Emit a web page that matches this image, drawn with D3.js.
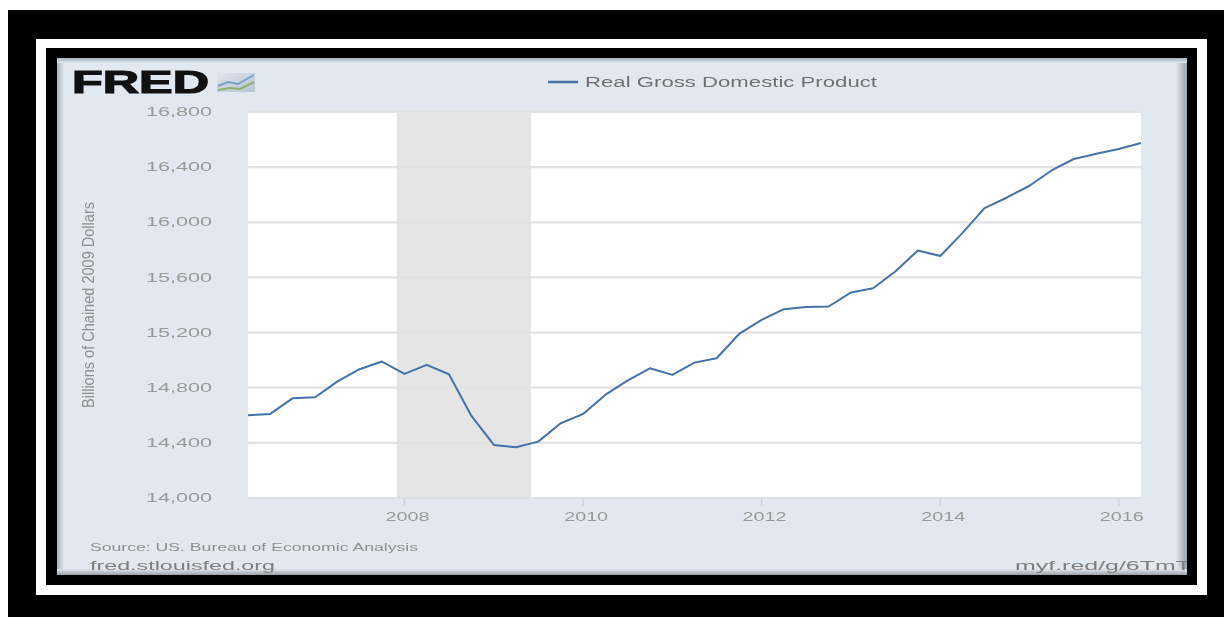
<!DOCTYPE html>
<html><head><meta charset="utf-8">
<script src="https://cdn.jsdelivr.net/npm/d3@7"></script>
<style>body{margin:0;background:#fff;} svg{display:block;}</style>
</head><body>
<svg id="c" width="1224" height="617"></svg>
<script>
// ---- data ----
const quarters = [
  "2006-04-01","2006-07-01","2006-10-01",
  "2007-01-01","2007-04-01","2007-07-01","2007-10-01",
  "2008-01-01","2008-04-01","2008-07-01","2008-10-01",
  "2009-01-01","2009-04-01","2009-07-01","2009-10-01",
  "2010-01-01","2010-04-01","2010-07-01","2010-10-01",
  "2011-01-01","2011-04-01","2011-07-01","2011-10-01",
  "2012-01-01","2012-04-01","2012-07-01","2012-10-01",
  "2013-01-01","2013-04-01","2013-07-01","2013-10-01",
  "2014-01-01","2014-04-01","2014-07-01","2014-10-01",
  "2015-01-01","2015-04-01","2015-07-01","2015-10-01",
  "2016-01-01","2016-04-01"];
const gdp = [
  14600,14610,14724,
  14731,14844,14934,14990,
  14900,14966,14898,14595,
  14385,14368,14409,14542,
  14610,14748,14852,14941,
  14893,14982,15014,15190,
  15292,15370,15385,15389,
  15491,15522,15643,15796,
  15755,15921,16103,16180,
  16265,16376,16459,16497,
  16532,16575];
const yTicks = [14000,14400,14800,15200,15600,16000,16400,16800];
const xTickYears = [2008,2010,2012,2014,2016];
const recession = ["2007-12-01","2009-06-01"];
const seriesName = "Real Gross Domestic Product";
const yTitle = "Billions of Chained 2009 Dollars";
const sourceLines = ["Source: US. Bureau of Economic Analysis","fred.stlouisfed.org"];
const shortUrl = "myf.red/g/6TmT";

// ---- drawing ----
const svg = d3.select("#c");
const parse = d3.timeParse("%Y-%m-%d");
const data = quarters.map((q,i)=>({date:parse(q), v:gdp[i]}));
const FONT = "Liberation Sans, Arial, sans-serif";

const defs = svg.append("defs");
defs.append("filter").attr("id","soft").append("feGaussianBlur").attr("stdDeviation",0.45);

// frames
svg.append("rect").attr("x",8).attr("y",10).attr("width",1216).attr("height",607).attr("fill","#000");
svg.append("rect").attr("x",36).attr("y",39).attr("width",1171).attr("height",556).attr("fill","#fff");
svg.append("rect").attr("x",46).attr("y",48).attr("width",1151).attr("height",537).attr("fill","#000");

// panel
function grad(id,x1,y1,x2,y2,c1,c2){
  const g = defs.append("linearGradient").attr("id",id).attr("x1",x1).attr("y1",y1).attr("x2",x2).attr("y2",y2);
  g.append("stop").attr("offset","0%").attr("stop-color",c1);
  g.append("stop").attr("offset","100%").attr("stop-color",c2);
}
grad("gl","0","0","1","0","#a8b0b8","#e1e8ef");
grad("gr","0","0","1","0","#e1e8ef","#9aa2aa");
grad("gt","0","0","0","1","#a8b0b8","#e1e8ef");
grad("gb","0","0","0","1","#e1e8ef","#9aa2aa");
grad("icon","0","0","1","1","#dfe6ee","#b7c3cf");
svg.append("rect").attr("x",57).attr("y",58).attr("width",1130).attr("height",517).attr("fill","#e1e8ef");
svg.append("rect").attr("x",57).attr("y",58).attr("width",7).attr("height",517).attr("fill","url(#gl)");
svg.append("rect").attr("x",1176).attr("y",58).attr("width",11).attr("height",517).attr("fill","url(#gr)");
svg.append("rect").attr("x",57).attr("y",58).attr("width",1130).attr("height",5).attr("fill","url(#gt)");
svg.append("rect").attr("x",57).attr("y",569).attr("width",1130).attr("height",6).attr("fill","url(#gb)");

// scales
const x = d3.scaleTime().domain([parse("2006-04-01"), parse("2016-04-01")]).range([248,1141]);
const y = d3.scaleLinear().domain([14000,16800]).range([498,112]);

// plot area
svg.append("rect").attr("x",x.range()[0]).attr("y",y.range()[1])
  .attr("width",x.range()[1]-x.range()[0]).attr("height",y.range()[0]-y.range()[1]).attr("fill","#fff");

// recession
svg.append("rect").attr("x",x(parse(recession[0]))).attr("y",y.range()[1])
  .attr("width",x(parse(recession[1]))-x(parse(recession[0])))
  .attr("height",y.range()[0]-y.range()[1]).attr("fill","#e5e5e5");

// gridlines
svg.append("g").selectAll("line").data(yTicks).join("line")
  .attr("x1",x.range()[0]).attr("x2",x.range()[1])
  .attr("y1",d=>y(d)).attr("y2",d=>y(d))
  .attr("stroke",d=>d===14000?"#d8e0e8":"#e2e2e2").attr("stroke-width",2.2);

const txt = svg.append("g").attr("filter","url(#soft)");

// y labels
txt.append("g").selectAll("text").data(yTicks).join("text")
  .attr("x",212).attr("y",d=>y(d)).attr("dy","0.35em")
  .attr("text-anchor","end")
  .attr("font-family",FONT).attr("font-size",12)
  .attr("fill","#999")
  .attr("textLength",66).attr("lengthAdjust","spacingAndGlyphs")
  .text(d3.format(","));

// x ticks and labels
const xt = xTickYears.map(yr=>new Date(yr,0,1));
svg.append("g").selectAll("line").data(xt).join("line")
  .attr("x1",d=>x(d)).attr("x2",d=>x(d)).attr("y1",499).attr("y2",506)
  .attr("stroke","#c9d3dd").attr("stroke-width",1.5);
txt.append("g").selectAll("text").data(xt).join("text")
  .attr("x",d=>x(d)+3).attr("y",517).attr("dy","0.35em")
  .attr("text-anchor","middle")
  .attr("font-family",FONT).attr("font-size",12)
  .attr("fill","#999")
  .attr("textLength",44).attr("lengthAdjust","spacingAndGlyphs")
  .text(d=>d.getFullYear());

// y title
txt.append("text")
  .attr("transform","translate(94,305) scale(1.45,1) rotate(-90)")
  .attr("text-anchor","middle")
  .attr("font-family",FONT).attr("font-size",12)
  .attr("fill","#8e8e8e")
  .attr("textLength",206).attr("lengthAdjust","spacingAndGlyphs")
  .text(yTitle);

// line
svg.append("path").datum(data)
  .attr("d",d3.line().x(d=>x(d.date)).y(d=>y(d.v)))
  .attr("fill","none").attr("stroke","#4572a7").attr("stroke-width",2).attr("stroke-linejoin","round");

// legend
svg.append("line").attr("x1",548).attr("x2",578).attr("y1",82).attr("y2",82)
  .attr("stroke","#4572a7").attr("stroke-width",2.5);
txt.append("text").attr("x",585).attr("y",82).attr("dy","0.35em")
  .attr("font-family",FONT).attr("font-size",14)
  .attr("fill","#707070").attr("textLength",292).attr("lengthAdjust","spacingAndGlyphs")
  .text(seriesName);

// FRED logo
svg.append("text").attr("x",72).attr("y",93)
  .attr("font-family",FONT).attr("font-weight","900").attr("font-size",32)
  .attr("fill","#111").attr("stroke","#111").attr("stroke-width",1.2)
  .attr("textLength",137).attr("lengthAdjust","spacingAndGlyphs")
  .text("FRED");
svg.append("rect").attr("x",217).attr("y",73).attr("width",38).attr("height",19).attr("fill","url(#icon)");
svg.append("polyline").attr("points","218,86 228,82 238,84 254,75").attr("fill","none").attr("stroke","#7f9fc0").attr("stroke-width",2);
svg.append("polyline").attr("points","218,90 230,88 240,89 254,82").attr("fill","none").attr("stroke","#8fb070").attr("stroke-width",2);

// source
txt.append("text").attr("x",90).attr("y",547).attr("dy","0.35em")
  .attr("font-family",FONT).attr("font-size",11)
  .attr("fill","#8f8f8f").attr("textLength",328).attr("lengthAdjust","spacingAndGlyphs")
  .text(sourceLines[0]);
txt.append("text").attr("x",90).attr("y",566).attr("dy","0.35em")
  .attr("font-family",FONT).attr("font-size",12)
  .attr("fill","#7e7e7e").attr("textLength",185).attr("lengthAdjust","spacingAndGlyphs")
  .text(sourceLines[1]);
txt.append("text").attr("x",1015).attr("y",566).attr("dy","0.35em")
  .attr("font-family",FONT).attr("font-size",12)
  .attr("fill","#7e7e7e").attr("textLength",176).attr("lengthAdjust","spacingAndGlyphs")
  .text(shortUrl);
// cover overflow of url beyond panel
svg.append("rect").attr("x",1187).attr("y",548).attr("width",10).attr("height",30).attr("fill","#000");
</script>
</body></html>
